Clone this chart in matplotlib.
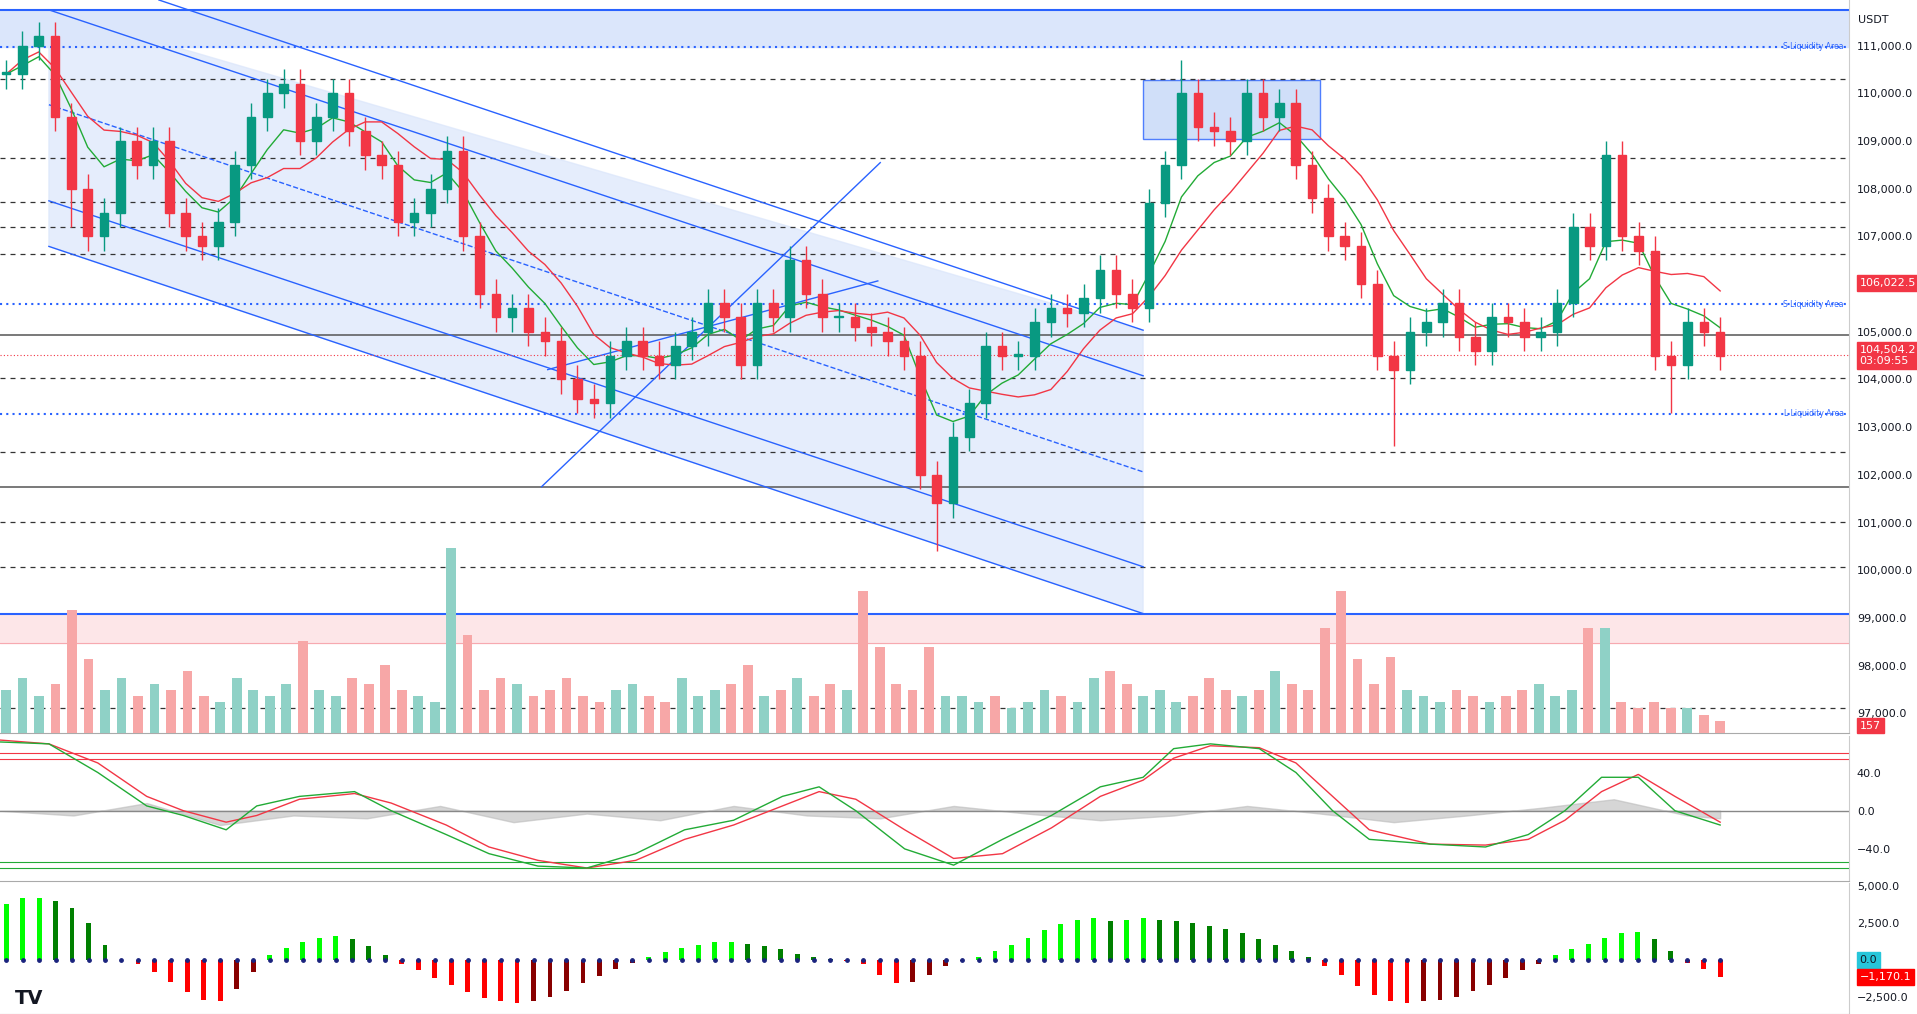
import numpy as np
import matplotlib
matplotlib.use("Agg")
import matplotlib.pyplot as plt
from matplotlib.patches import Rectangle, Polygon

closes = [110400,111000,111200,109500,108000,107000,107500,109000,108500,109000,107500,107000,106800,107300,
          108500,109500,110000,110200,109000,109500,110000,109200,108700,108500,107300,107500,108000,108800,107000,105800,105300,105500,105000,
          104800,104000,103600,103500,104500,104800,104500,104300,104700,
          105000,105600,105300,104300,105600,105300,106500,105800,105300,105300,105100,
          105000,104800,104500,102000,101400,102800,103500,104700,104500,104500,105200,105500,105400,105700,106300,105800,105500,107700,108500,110000,
          109300,109200,109000,110000,109500,109800,108500,107800,107000,106800,106000,104500,104200,105000,105200,105600,104900,104600,105300,105200,
          104900,105000,105600,107200,106800,108700,107000,106700,104500,104300,105200,105000,104500]
upper_wick = [300]*72 + [700] + [300]*33
lower_wick = [300]*4 + [800] + [300]*52 + [1000] + [300]*27 + [1600] + [300]*16 + [1000] + [300]*3
volumes = [35,45,30,40,100,60,35,45,30,40,35,50,30,25,45,35,30,40,75,35,30,45,40,55,35,30,25,150,80,35,45,40,30,35,45,30,25,35,40,30,25,45,30,35,40,55,30,35,45,30,40,35,115,70,40,35,70,30,30,25,30,20,25,35,30,25,45,50,40,30,35,25,30,45,35,30,35,50,40,35,85,115,60,40,62,35,30,25,35,30,25,30,35,40,30,35,85,85,25,20,25,20,20,15,10]
hist = [3800,4200,4200,4000,3500,2500,1000,0,-300,-800,-1500,-2200,-2700,-2800,-2000,-800,300,800,1200,1500,1600,1400,900,300,
        -300,-700,-1200,-1700,-2200,-2600,-2800,-2900,-2800,-2500,-2100,-1600,-1100,-600,-200,200,500,800,1000,1200,1200,1100,900,700,400,200,50,
        -100,-300,-1000,-1600,-1500,-1000,-400,-100,200,600,1000,1500,2000,2400,2700,2800,2600,2700,2800,2700,2600,2500,2300,2100,1800,1400,1000,600,200,
        -400,-1000,-1800,-2400,-2800,-2900,-2800,-2700,-2500,-2100,-1700,-1200,-700,-300,300,700,1100,1500,1800,1900,1400,600,-200,-600,-1170]
osc_x = [0,40,80,120,150,185,210,245,290,320,365,400,440,480,520,560,600,640,670,700,740,780,820,860,900,935,960,990,1030,1060,1090,1120,1170,1215,1250,1280,1310,1340,1370,1407]
osc_fast = [72,70,40,5,-5,-20,5,15,20,0,-25,-45,-58,-60,-45,-20,-10,15,25,0,-40,-57,-30,-5,25,35,65,70,65,40,0,-30,-35,-38,-25,0,35,35,0,-15]
osc_slow = [74,70,50,15,0,-12,-5,12,18,8,-15,-38,-52,-60,-52,-30,-15,5,20,12,-20,-50,-45,-18,15,32,55,68,66,50,15,-20,-35,-36,-30,-10,20,38,15,-12]
grey_x = [0,60,120,180,240,300,360,420,480,540,600,660,720,780,840,900,960,1020,1080,1140,1200,1260,1320,1380,1407]
grey_v = [0,-5,8,-15,-5,-8,5,-12,-3,-10,5,-5,-8,5,-3,-10,-5,5,-3,-12,-5,3,12,-5,-8]

N = len(closes)
xs = np.linspace(5, 1407, N)
opens = [closes[0]] + closes[:-1]
UP, DN = "#089981", "#f23645"

W, H = 1917, 1014
fig = plt.figure(figsize=(W/100, H/100), dpi=100)
fig.patch.set_facecolor("white")
R = 1512/1568
def pane(t, b):
    return fig.add_axes([0, 1-b/823, R, (b-t)/823])
ax = pane(0, 595)
ax2 = pane(597, 715)
ax3 = pane(717, 823)

def p(y):
    return 111000-(y-37)*1000/38.71

ax.set_xlim(0, 1512)
ax.set_ylim(p(595), p(0))
ax.axhspan(p(38), p(8), color="#dbe6fb", zorder=0)
ax.axhspan(p(522), p(498), color="#fde6e8", zorder=0)
ax.axhline(p(8), color="#2962ff", lw=1.5)
ax.axhline(p(498), color="#2962ff", lw=1.5)
ax.axhline(p(522), color="#f7a9b0", lw=0.8)
for y in [64,128,164,184,206,307,367,424,460,575]:
    ax.axhline(p(y), color="#333", lw=0.9, ls=(0,(4,4)))
for y in [272,395]:
    ax.axhline(p(y), color="#555", lw=1.1)
for y in [38,247,336]:
    ax.axhline(p(y), color="#2962ff", lw=1.5, ls=(0,(1,2)))
for y, t in [(38,"S Liquidity Area"),(247,"S Liquidity Area"),(336,"L Liquidity Area")]:
    ax.text(1508, p(y), t, color="#2962ff", fontsize=5.5, ha="right", va="center")
ax.add_patch(Polygon([(40,p(8)),(935,p(268)),(935,p(498)),(40,p(200))], closed=True, color="#dbe6fb", alpha=0.7, zorder=0))
for (x1,y1,x2,y2,ls) in [(40,8,935,305,"-"),(130,0,935,268,"-"),(40,85,935,383,"--"),(40,163,935,460,"-"),(40,200,935,498,"-"),(443,395,720,132,"-"),(448,300,718,228,"-")]:
    ax.plot([x1,x2],[p(y1),p(y2)], color="#2962ff", lw=1, ls=ls)
ax.add_patch(Rectangle((935,p(113)),145,p(65)-p(113), facecolor="#c5d7f8", edgecolor="#2962ff", lw=1, alpha=0.8))
cs = np.array(closes, float)
ema = [cs[0]]
for v in cs[1:]:
    ema.append(ema[-1]*0.7+v*0.3)
sma = [cs[max(0,i-8):i+1].mean() for i in range(N)]
ax.plot(xs, ema, color="#22ab36", lw=1)
ax.plot(xs, sma, color="#f23645", lw=1)
axv = ax.twinx()
axv.set_ylim(0, 595); axv.set_xlim(0,1512); axv.axis("off")
vx = np.linspace(5, 1407, len(volumes))
vcol = []
for x in vx:
    i = int(np.argmin(np.abs(xs - x)))
    vcol.append("#8fd1c6" if closes[i] >= opens[i] else "#f7a7a7")
axv.bar(vx, volumes, width=8, color=vcol, zorder=1)
for i in range(N):
    o, c = opens[i], closes[i]
    col = UP if c >= o else DN
    hi = max(o,c)+upper_wick[i]; lo = min(o,c)-lower_wick[i]
    ax.vlines(xs[i], lo, hi, color=col, lw=1, zorder=3)
    ax.add_patch(Rectangle((xs[i]-3.5, min(o,c)), 7, max(abs(c-o), 40), color=col, zorder=4))
ax.axhline(104504, color="#f23645", lw=0.8, ls=(0,(1,2)))

ax2.set_xlim(0,1512)
ax2.set_ylim(-(715-658)*40/31, (658-597)*40/31)
ax2.fill_between(grey_x, 0, grey_v, color="#bbbbbb", alpha=0.6)
ax2.axhline(0, color="#888", lw=1)
for v in [60,54]:
    ax2.axhline(v, color="#f23645", lw=0.8)
for v in [-54,-60]:
    ax2.axhline(v, color="#22ab36", lw=0.8)
ax2.plot(osc_x, osc_slow, color="#f23645", lw=1)
ax2.plot(osc_x, osc_fast, color="#22ab36", lw=1)

ax3.set_xlim(0,1512)
ax3.set_ylim(-(823-779)*2500/30, (779-717)*2500/30)
hx = np.linspace(5, 1407, len(hist))
hc = []
for i, v in enumerate(hist):
    prev = hist[i-1] if i else v
    if v >= 0:
        hc.append("#00ff00" if v >= prev else "#008000")
    else:
        hc.append("#ff0000" if v <= prev else "#880000")
ax3.bar(hx, hist, width=4, color=hc)
ax3.scatter(hx, [0]*len(hist), s=6, color="#1a237e", zorder=3)

def fmt(v):
    return f"{v:,.1f}"
for a in (ax, ax2, ax3):
    a.set_xticks([])
    a.yaxis.tick_right()
    a.tick_params(axis="y", labelsize=8, length=0, pad=6, colors="#131722")
    for s in a.spines.values():
        s.set_visible(False)
    a.spines["right"].set_visible(True); a.spines["right"].set_color("#ccc")
    a.spines["bottom"].set_visible(True); a.spines["bottom"].set_color("#aaa")
ax.set_yticks(range(97000, 111001, 1000))
ax.set_yticklabels([fmt(v) for v in range(97000, 111001, 1000)])
ax2.set_yticks([40,0,-40]); ax2.set_yticklabels(["40.0","0.0","\u221240.0"])
ax3.set_yticks([5000,2500,0,-2500]); ax3.set_yticklabels(["5,000.0","2,500.0","0.0","\u22122,500.0"])

def tag(a, y, t, col, tc="white"):
    a.text(1.006, y, t, transform=a.get_yaxis_transform(), fontsize=8, color=tc, va="center",
           bbox=dict(boxstyle="square,pad=0.25", fc=col, ec=col))
tag(ax, 106022.5, "106,022.5", "#f23645")
tag(ax, 104504.2, "104,504.2\n03:09:55", "#f23645")
tag(ax, p(589), "157", "#f23645")
tag(ax3, 0, "0.0", "#26c6da", "#131722")
tag(ax3, -1170.1, "\u22121,170.1", "#ff0000")
fig.text(0.985, 0.985, "USDT", fontsize=8, ha="right", va="top", color="#131722")
fig.text(0.008, 0.01, "TV", fontsize=14, fontweight="bold", color="#131722")
fig.savefig("out.png", dpi=100)
